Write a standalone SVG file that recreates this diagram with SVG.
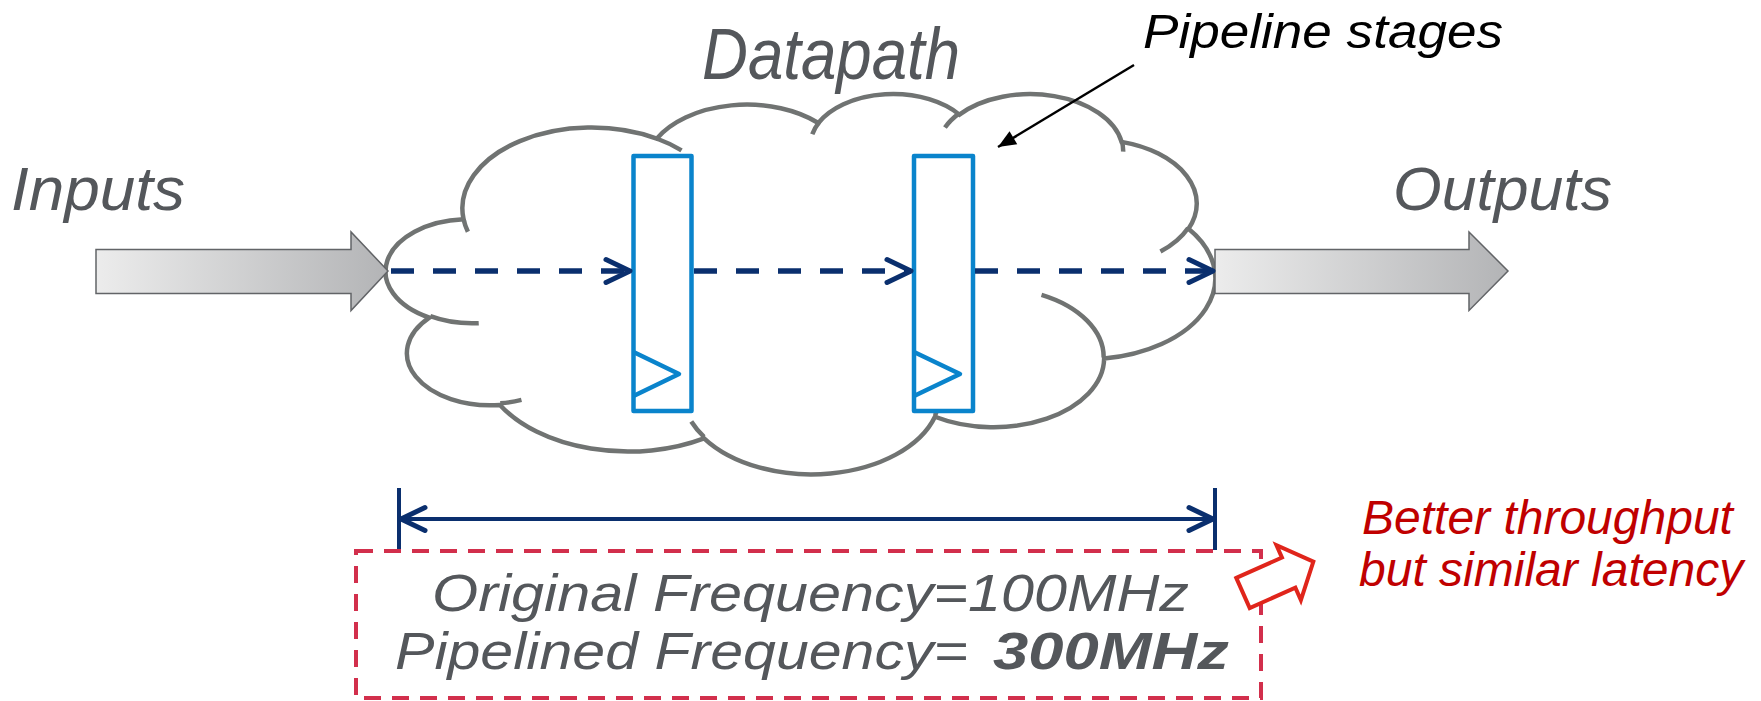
<svg xmlns="http://www.w3.org/2000/svg" width="1761" height="701" viewBox="0 0 1761 701">
  <style>
    .cloud { fill: #ffffff; stroke: #707372; stroke-width: 4.5; stroke-linecap: butt; }
    .inner { fill: none; stroke: #707372; stroke-width: 4.5; }
    .reg { fill: #ffffff; stroke: #0a84cc; stroke-width: 4.5; stroke-linejoin: round; }
    .clk { fill: none; stroke: #0a84cc; stroke-width: 4.5; stroke-linejoin: round; }
    .block { fill: url(#grad); stroke: #626467; stroke-width: 1.5; }
    .flow { fill: none; stroke: #0a2f6e; stroke-width: 5.5; stroke-dasharray: 23 19; }
    .dim { fill: none; stroke: #0a2f6e; stroke-width: 4; }
    .lbl { font-family: "Liberation Sans", Arial, sans-serif; font-style: italic; fill: #54575b; }
    .red { font-family: "Liberation Sans", Arial, sans-serif; font-style: italic; fill: #c00000; font-size: 48px; }
  </style>
  <defs>
    <linearGradient id="grad" x1="0" y1="0" x2="1" y2="0">
      <stop offset="0" stop-color="#ececec"/>
      <stop offset="1" stop-color="#b3b4b6"/>
    </linearGradient>
    <marker id="chev" markerUnits="userSpaceOnUse" viewBox="-30 -16 34 32" markerWidth="34" markerHeight="32" refX="0" refY="0" orient="auto-start-reverse">
      <path d="M-24,-11.5 L0,0 L-24,11.5" fill="none" stroke="#0a2f6e" stroke-width="5" stroke-linecap="round" stroke-linejoin="round" stroke-dasharray="none"/>
    </marker>
    <marker id="tri" markerUnits="userSpaceOnUse" viewBox="-20 -10 22 20" markerWidth="22" markerHeight="20" refX="0" refY="0" orient="auto">
      <path d="M-18,-7.5 L0,0 L-18,7.5 Z" fill="#000000"/>
    </marker>
  </defs>

  <g id="cloud">
    <path class="cloud" d="M463.56,219.26 A129.11,80.87 0 0 1 656.76,138.58 A101.96,63.95 0 0 1 818.34,123.0 A83.45,52.32 0 0 1 959.38,114.62 A92.86,58.04 0 0 1 1121.6,141.86 A101.96,64.0 0 0 1 1188.52,228.84 A129.53,81.14 0 0 1 1104.13,358.58 A110.6,69.23 0 0 1 934.96,416.75 A129.09,81.09 0 0 1 704.08,438.31 A147.6,92.78 0 0 1 499.97,404.93 A83.36,52.08 0 0 1 429.4,317.61 A83.07,52.32 0 0 1 463.56,219.26 Z"/>
    <path class="inner" d="M478.72,323.16 A83.07,52.32 0 0 1 430.3,316.14 M521.46,399.91 A83.36,52.08 0 0 1 500.27,403.26 M704.04,436.79 A129.09,81.09 0 0 1 691.27,421.48 M940.14,398.61 A129.09,81.09 0 0 1 935.04,415.41 M1041.51,294.8 A110.6,69.23 0 0 1 1103.67,357.59 M1188.14,227.92 A101.96,64.0 0 0 1 1160.45,251.46 M1121.72,140.55 A92.86,58.04 0 0 1 1123.17,151.67 M944.94,127.58 A92.86,58.04 0 0 1 959.13,113.39 M812.31,134.34 A83.45,52.32 0 0 1 819.18,122.1 M656.67,138.49 A129.11,80.87 0 0 1 681.52,150.35 M467.9,231.74 A129.11,80.87 0 0 1 463.56,219.26"/>
  </g>

  <g id="input-arrow">
    <polygon class="block" points="96,249.5 351,249.5 351,232 388,271 351,310.5 351,293.5 96,293.5"/>
  </g>
  <g id="output-arrow">
    <polygon class="block" points="1215,249.5 1469,249.5 1469,232 1508,271 1469,310.5 1469,293.5 1215,293.5"/>
  </g>

  <g id="register1">
    <rect class="reg" x="633.5" y="156" width="58" height="255"/>
    <polyline class="clk" points="633.5,352 679,374 633.5,396"/>
  </g>
  <g id="register2">
    <rect class="reg" x="914" y="156" width="59" height="255"/>
    <polyline class="clk" points="914,352 960,374 914,396"/>
  </g>

  <g id="connectors">
    <path class="flow" d="M391,271 L630,271" marker-end="url(#chev)"/>
    <path class="flow" d="M694,271 L911,271" marker-end="url(#chev)"/>
    <path class="flow" d="M975,271 L1213,271" marker-end="url(#chev)"/>
    <path d="M1134,65 L998,147" fill="none" stroke="#000000" stroke-width="2.5" marker-end="url(#tri)"/>
    <path class="dim" d="M399,488 L399,550 M1215,488 L1215,550"/>
    <path class="dim" d="M401,519 L1213,519" marker-start="url(#chev)" marker-end="url(#chev)"/>
  </g>

  <g id="labels">
    <text class="lbl" x="702" y="79" font-size="72" textLength="258" lengthAdjust="spacingAndGlyphs">Datapath</text>
    <text x="1143" y="48" font-family="Liberation Sans, Arial, sans-serif" font-style="italic" font-size="48" fill="#000000" textLength="360" lengthAdjust="spacingAndGlyphs">Pipeline stages</text>
    <text class="lbl" x="11" y="210" font-size="62" textLength="174" lengthAdjust="spacingAndGlyphs">Inputs</text>
    <text class="lbl" x="1393" y="210" font-size="62" textLength="219" lengthAdjust="spacingAndGlyphs">Outputs</text>
  </g>

  <g id="frequency-box">
    <rect x="356" y="551" width="905" height="147" fill="none" stroke="#d22f4c" stroke-width="4" stroke-dasharray="17 11"/>
    <text class="lbl" x="432" y="611" font-size="52" textLength="757" lengthAdjust="spacingAndGlyphs">Original Frequency=100MHz</text>
    <text class="lbl" x="395" y="669" font-size="52" textLength="573" lengthAdjust="spacingAndGlyphs">Pipelined Frequency=</text>
    <text class="lbl" x="993" y="669" font-size="52" font-weight="bold" textLength="236" lengthAdjust="spacingAndGlyphs">300MHz</text>
  </g>

  <g id="note">
    <path d="M0,-16.5 L50,-16.5 L50,-30 L77,0 L50,30 L50,16.5 L0,16.5 Z" transform="translate(1243,593) rotate(-24)" fill="#ffffff" stroke="#e0251b" stroke-width="4" stroke-linejoin="miter"/>
    <text class="red" x="1362" y="534">Better throughput</text>
    <text class="red" x="1359" y="586">but similar latency</text>
  </g>
</svg>
